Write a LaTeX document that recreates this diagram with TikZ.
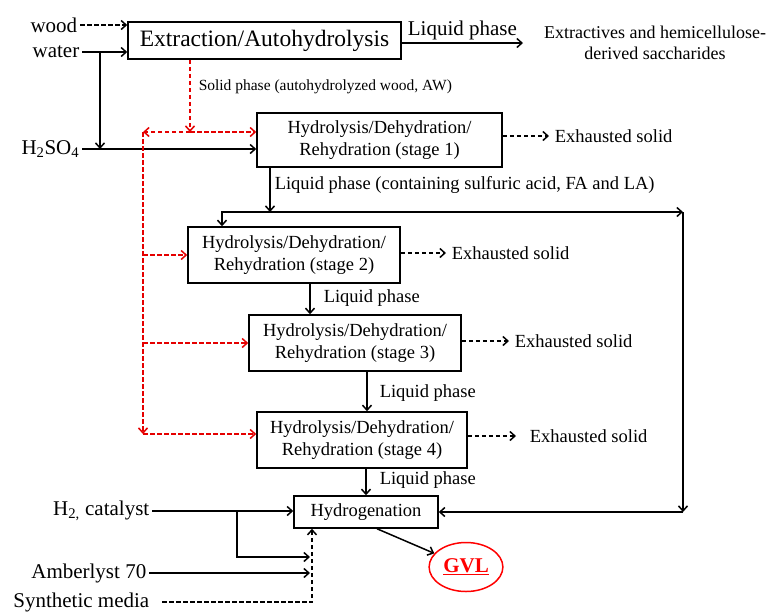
\documentclass[tikz,border=0pt]{standalone}
\usepackage{fontspec}
\setmainfont{Liberation Serif}
\usetikzlibrary{shapes.geometric, arrows.meta}
\tikzset{
	stage/.style={draw, align=center, font=\fontsize{18.5}{22.5}\selectfont, inner sep=2pt},
	side/.style={font=\fontsize{21}{24}\selectfont, inner sep=2pt},
	note/.style={font=\fontsize{18.5}{22}\selectfont, inner sep=1pt},
	dotline/.style={dash pattern=on 4.5pt off 2.5pt},
	feed/.style={red!90!black, dotline, ->},
}
\begin{document}
\begin{tikzpicture}[x=1pt, y=-1pt, line width=1.5pt, >={Straight Barb[length=5pt, width=9pt]}]
		\useasboundingbox (0,0) rectangle (777,614);

		\node[side, anchor=east] (wood) at (80,25) {wood};
		\node[side, anchor=east] (water) at (82,52) {water};
		\node[side, anchor=east] (acid) at (82,149) {H\textsubscript{2}SO\textsubscript{4}};
		\node[stage, minimum width=273pt, minimum height=37pt, font=\fontsize{23.5}{27}\selectfont] (ext) at (264.5,40.5) {Extraction/Autohydrolysis};
		\node[note, font=\fontsize{18}{21}\selectfont, align=center] (extr) at (655,43) {Extractives and hemicellulose-\\derived saccharides};

		\node[stage, minimum width=245pt, minimum height=54pt] (hdr1) at (379.5,140) {Hydrolysis/Dehydration/\\Rehydration (stage 1)};
		\node[stage, minimum width=212pt, minimum height=56pt] (hdr2) at (294,255) {Hydrolysis/Dehydration/\\Rehydration (stage 2)};
		\node[stage, minimum width=212pt, minimum height=56pt] (hdr3) at (355,343) {Hydrolysis/Dehydration/\\Rehydration (stage 3)};
		\node[stage, minimum width=210pt, minimum height=56pt] (hdr4) at (362,440) {Hydrolysis/Dehydration/\\Rehydration (stage 4)};
		\node[stage, minimum width=144pt, minimum height=32pt] (hyd) at (366,512) {Hydrogenation};
		\node[draw=red, ellipse, minimum width=62pt, minimum height=49pt, text=red, font=\fontsize{21}{24}\selectfont\bfseries] (gvl) at (466,567) {\underline{GVL}};

		\node[note, anchor=west] (ex1) at (553,136) {Exhausted solid};
		\node[note, anchor=west] (ex2) at (450,253) {Exhausted solid};
		\node[note, anchor=west] (ex3) at (513,341) {Exhausted solid};
		\node[note, anchor=west] (ex4) at (528,436) {Exhausted solid};

		\node[side, anchor=east] (h2) at (152,511) {H\textsubscript{2,} catalyst};
		\node[side, anchor=east] (amb) at (149,573) {Amberlyst 70};
		\node[side, anchor=east] (syn) at (152,602) {Synthetic media};

		\node[note, font=\fontsize{15.5}{18}\selectfont, anchor=west] (solid) at (197,87) {Solid phase (autohydrolyzed wood, AW)};
		\node[note, anchor=west] (liq1) at (273,185) {Liquid phase (containing sulfuric acid, FA and LA)};
		\node[note, anchor=west] (liq2) at (322,298) {Liquid phase};
		\node[note, anchor=west] (liq3) at (378,393) {Liquid phase};
		\node[note, anchor=west] (liq4) at (378,480) {Liquid phase};

		\coordinate (wsplit) at (100,52);
		\coordinate (lqend) at (523,43);
		\coordinate (rsplit) at (190,132);
		\coordinate (rleft) at (143,132);
		\coordinate (rbot) at (143,434);
		\coordinate (lsplit) at (270,212);
		\coordinate (l2) at (222,212);
		\coordinate (rc) at (683,212);
		\coordinate (hsplit) at (237,511);
		\coordinate (c1) at (310,557);
		\coordinate (sm) at (312,606);

		\draw[dotline, ->] (wood.east) -- (wood.east -| ext.west);
		\draw[->] (water.east) -- (water.east -| ext.west);
		\draw[->] (wsplit) -- (wsplit |- acid.east);
		\draw[->] (acid.east) -- (acid.east -| hdr1.west);
		\draw[->] (lqend -| ext.east) -- (lqend) node[midway, above, side] (lq0) {Liquid phase};

		\draw[feed] (ext.south -| rsplit) -- (rsplit);
		\draw[feed] (rsplit) -- (rsplit -| hdr1.west);
		\draw[feed] (rsplit) -- (rleft);
		\draw[feed] (rleft) -- (rbot);
		\draw[feed] (rleft |- hdr2.west) -- (hdr2.west);
		\draw[feed] (rleft |- hdr3.west) -- (hdr3.west);
		\draw[feed] (rbot) -- (rbot -| hdr4.west);

		\draw[dotline, ->, shorten >=4pt] (ex1.west -| hdr1.east) -- (ex1.west);
		\draw[dotline, ->, shorten >=4pt] (ex2.west -| hdr2.east) -- (ex2.west);
		\draw[dotline, ->, shorten >=4pt] (ex3.west -| hdr3.east) -- (ex3.west);
		\draw[dotline, ->, shorten >=12pt] (ex4.west -| hdr4.east) -- (ex4.west);

		\draw[->] (hdr1.south -| lsplit) -- (lsplit);
		\draw[->] (lsplit) -- (rc);
		\draw[->] (rc) -- (rc |- hyd.east);
		\draw[->] (rc |- hyd.east) -- (hyd.east);
		\draw[->] (lsplit) -- (l2) -- (l2 |- hdr2.north);
		\draw[->] ([xshift=16pt]hdr2.south) -- ([xshift=16pt]hdr2.south |- hdr3.north);
		\draw[->] ([xshift=12pt]hdr3.south) -- ([xshift=12pt]hdr3.south |- hdr4.north);
		\draw[->] ([xshift=4pt]hdr4.south) -- ([xshift=4pt]hdr4.south |- hyd.north);

		\draw[->] (h2.east) -- (h2.east -| hyd.west);
		\draw[->] (hsplit) |- (c1);
		\draw[->] (amb.east) -- (amb.east -| c1);
		\draw[dotline, ->, shorten <=10pt] (syn.east) -- (syn.east -| sm) -- (sm |- hyd.south);
		\draw[->] ([xshift=11pt]hyd.south) -- (gvl);
	\end{tikzpicture}
\end{document}
